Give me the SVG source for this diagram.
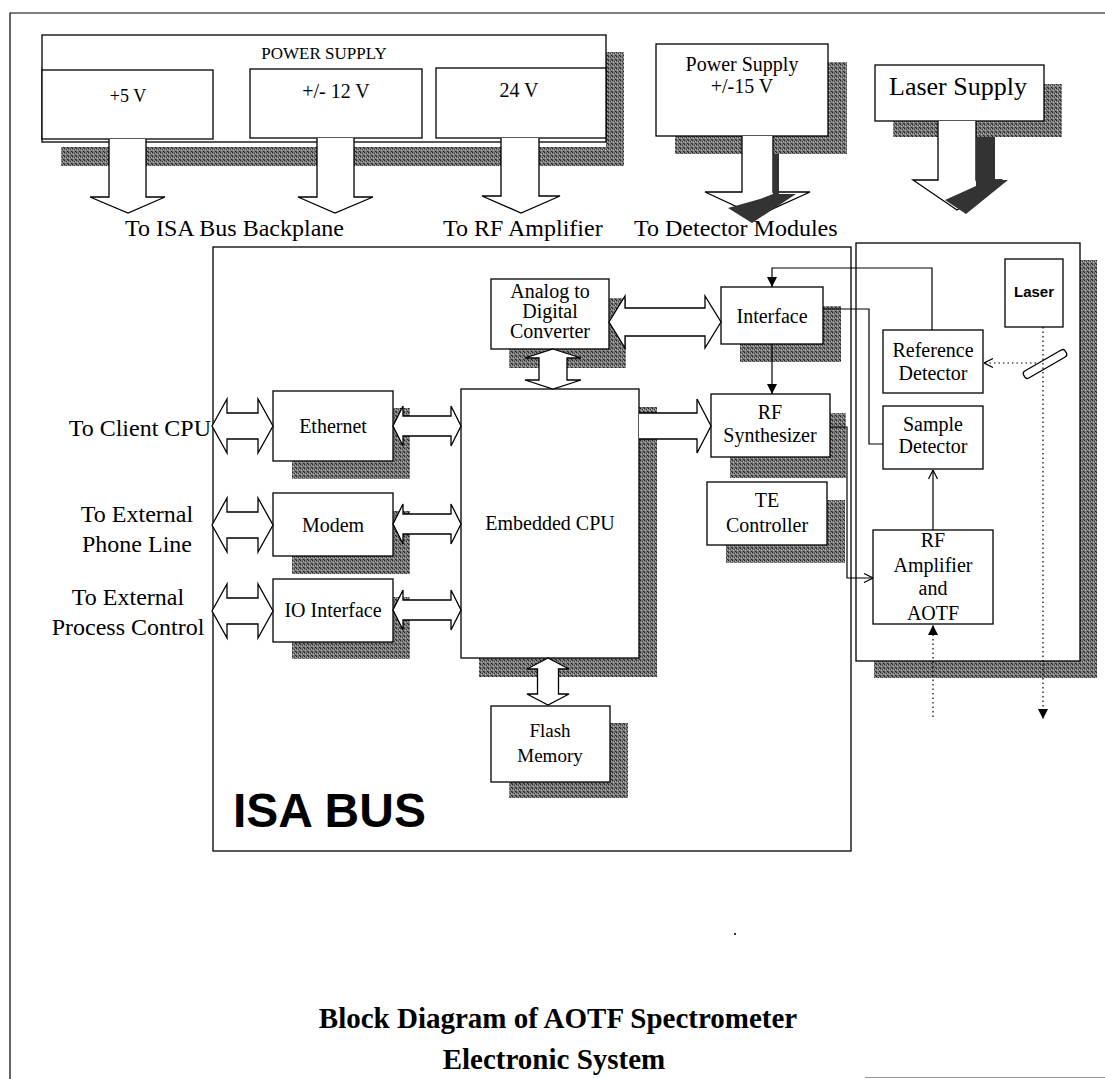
<svg xmlns="http://www.w3.org/2000/svg" width="1105" height="1079" viewBox="0 0 1105 1079">
<defs>
<pattern id="sh" width="4" height="4" patternUnits="userSpaceOnUse">
<rect width="4" height="4" fill="#7a7a7a"/>
<rect x="0" y="0" width="1" height="1" fill="#222"/>
<rect x="2" y="1" width="1" height="1" fill="#3a3a3a"/>
<rect x="1" y="2" width="1" height="1" fill="#bdbdbd"/>
<rect x="3" y="3" width="1" height="1" fill="#2a2a2a"/>
<rect x="3" y="1" width="1" height="1" fill="#aaa"/>
<rect x="0" y="3" width="1" height="1" fill="#555"/>
</pattern>
<marker id="af" viewBox="0 0 10 10" refX="10" refY="5" markerWidth="10" markerHeight="10" markerUnits="userSpaceOnUse" orient="auto">
<path d="M0,0 L10,5 L0,10 Z" fill="#000"/>
</marker>
<marker id="ao" viewBox="0 0 10 10" refX="10" refY="5" markerWidth="10" markerHeight="10" markerUnits="userSpaceOnUse" orient="auto">
<path d="M1,0.5 L10,5 L1,9.5" fill="none" stroke="#000" stroke-width="1.2"/>
</marker>
</defs>
<style>
.box{fill:#fff;stroke:#000;stroke-width:1.3}
.shd{fill:url(#sh)}
.t{font-family:"Liberation Serif","Times New Roman",serif;fill:#000;text-anchor:middle;font-size:20px}
.ts{font-family:"Liberation Serif","Times New Roman",serif;fill:#000;font-size:24px}
.ttl{font-family:"Liberation Serif","Times New Roman",serif;fill:#000;font-size:29px;font-weight:bold;text-anchor:middle}
.ln{fill:none;stroke:#000;stroke-width:1.2}
.dt{fill:none;stroke:#000;stroke-width:1.2;stroke-dasharray:1.5 3}
.blk{fill:#fff;stroke:#000;stroke-width:1.3}
.drk{fill:#333}
</style>
<rect width="1105" height="1079" fill="#fff"/>
<g id="frame">
<path d="M10,1079 V13 H1105" class="ln"/>
<line x1="865" y1="1077.5" x2="1105" y2="1077.5" stroke="#999" stroke-width="1"/>
<rect x="734" y="933" width="2" height="2" fill="#333"/>
</g>

<g id="title">
<text class="ttl" x="558" y="1028">Block Diagram of AOTF Spectrometer</text>
<text class="ttl" x="554" y="1069">Electronic System</text>
</g>

<g id="power-supply">
<path class="shd" d="M606,52 H624 V166 H61 V147 H606 Z"/>
<rect class="box" x="42" y="35" width="564" height="107"/>
<text class="t" x="324" y="59" style="font-size:17px">POWER SUPPLY</text>
</g>
<g id="ps-5v">
<rect class="box" x="42" y="70" width="171" height="69"/>
<text class="t" x="128" y="102" style="font-size:18px">+5 V</text>
</g>
<g id="ps-12v">
<rect class="box" x="250" y="69" width="172" height="69"/>
<text class="t" x="336" y="98">+/- 12 V</text>
</g>
<g id="ps-24v">
<rect class="box" x="436" y="68" width="170" height="70"/>
<text class="t" x="519" y="97">24 V</text>
</g>
<g id="ps-15v">
<rect class="shd" x="675" y="62" width="172" height="92"/>
<rect class="box" x="656" y="44" width="172" height="92"/>
<text class="t" x="742" y="71">Power Supply</text>
<text class="t" x="742" y="93">+/-15 V</text>
</g>
<g id="laser-supply">
<rect class="shd" x="893" y="84" width="169" height="53"/>
<rect class="box" x="875" y="65" width="169" height="56"/>
<text class="t" x="958" y="95" style="font-size:26px">Laser Supply</text>
</g>

<g id="labels">
<text class="ts" x="125" y="236">To ISA Bus Backplane</text>
<text class="ts" x="443" y="236">To RF Amplifier</text>
<text class="ts" x="634" y="236">To Detector Modules</text>
<text class="ts" x="211" y="436" text-anchor="end">To Client CPU</text>
<text class="ts" x="137" y="522" text-anchor="middle">To External</text>
<text class="ts" x="137" y="552" text-anchor="middle">Phone Line</text>
<text class="ts" x="128" y="605" text-anchor="middle">To External</text>
<text class="ts" x="128" y="635" text-anchor="middle">Process Control</text>
</g>

<g id="isa-bus">
<rect class="box" x="213" y="247" width="638" height="604"/>
<text x="233" y="827" font-family="Liberation Sans, Arial, sans-serif" font-weight="bold" font-size="48">ISA BUS</text>
</g>

<g id="detector-module">
<rect class="shd" x="874" y="260" width="223" height="418"/>
<rect class="box" x="856" y="243" width="224" height="418"/>
</g>

<g id="ethernet">
<rect class="shd" x="292" y="408" width="118" height="71"/>
<rect class="box" x="273" y="391" width="120" height="70"/>
<text class="t" x="333" y="433">Ethernet</text>
</g>
<g id="modem">
<rect class="shd" x="292" y="511" width="118" height="63"/>
<rect class="box" x="273" y="493" width="120" height="63"/>
<text class="t" x="333" y="532">Modem</text>
</g>
<g id="io-interface">
<rect class="shd" x="292" y="597" width="118" height="62"/>
<rect class="box" x="273" y="579" width="120" height="63"/>
<text class="t" x="333" y="617">IO Interface</text>
</g>
<g id="embedded-cpu">
<rect class="shd" x="479" y="407" width="178" height="270"/>
<rect class="box" x="461" y="389" width="178" height="269"/>
<text class="t" x="550" y="530">Embedded CPU</text>
</g>
<g id="adc">
<rect class="shd" x="509" y="298" width="117" height="70"/>
<rect class="box" x="491" y="279" width="118" height="70"/>
<text class="t" x="550" y="298">Analog to</text>
<text class="t" x="550" y="318">Digital</text>
<text class="t" x="550" y="338">Converter</text>
</g>
<g id="interface">
<rect class="shd" x="740" y="306" width="101" height="56"/>
<rect class="box" x="721" y="287" width="102" height="57"/>
<text class="t" x="772" y="323">Interface</text>
</g>
<g id="rf-synthesizer">
<rect class="shd" x="730" y="413" width="116" height="65"/>
<rect class="box" x="711" y="394" width="119" height="63"/>
<text class="t" x="770" y="419">RF</text>
<text class="t" x="770" y="442">Synthesizer</text>
</g>
<g id="te-controller">
<rect class="shd" x="726" y="500" width="119" height="63"/>
<rect class="box" x="707" y="482" width="120" height="63"/>
<text class="t" x="767" y="507">TE</text>
<text class="t" x="767" y="532">Controller</text>
</g>
<g id="flash-memory">
<rect class="shd" x="509" y="723" width="119" height="75"/>
<rect class="box" x="491" y="706" width="119" height="76"/>
<text class="t" x="550" y="737" style="font-size:19px">Flash</text>
<text class="t" x="550" y="762" style="font-size:19px">Memory</text>
</g>
<g id="reference-detector">
<rect class="box" x="883" y="330" width="100" height="63"/>
<text class="t" x="933" y="357">Reference</text>
<text class="t" x="933" y="380">Detector</text>
</g>
<g id="sample-detector">
<rect class="box" x="883" y="406" width="100" height="63"/>
<text class="t" x="933" y="431">Sample</text>
<text class="t" x="933" y="453">Detector</text>
</g>
<g id="rf-amplifier-aotf">
<rect class="box" x="873" y="530" width="120" height="94"/>
<text class="t" x="933" y="547">RF</text>
<text class="t" x="933" y="572">Amplifier</text>
<text class="t" x="933" y="595">and</text>
<text class="t" x="933" y="620">AOTF</text>
</g>
<g id="laser">
<rect class="box" x="1005" y="259" width="58" height="68"/>
<text x="1034" y="297" text-anchor="middle" font-family="Liberation Sans, Arial, sans-serif" font-weight="bold" font-size="15">Laser</text>
</g>
<g id="mirror">
<rect x="-24" y="-4" width="48" height="8" rx="3" fill="#fff" stroke="#000" stroke-width="1.3" transform="translate(1045,364) rotate(-30)"/>
</g>

<g id="connectors">
<path class="blk" d="M109,139 V197 H90 L128,213 L165,197 H146 V139"/>
<path class="blk" d="M317,138 V197 H298 L335,213 L373,197 H354 V138"/>
<path class="blk" d="M501,138 V196 H482 L521,213 L560,196 H539 V138"/>
<path class="blk" d="M742,136 V192 H705 L757,216 L810,192 H773 V136"/>
<path class="drk" d="M773,154 H779 V194 H796 L752,223 L728,208 L760,199 L773,194 Z"/>
<path class="blk" d="M938,121 V180 H913 L957,210 L1001,180 H976 V121"/>
<path class="drk" d="M976,137 H995 V180 H1008 L966,214 L945,200 L976,186 Z"/>

<polygon class="blk" points="212,426 227,399 227,413 258,413 258,399 273,426 258,453 258,439 227,439 227,453"/>
<polygon class="blk" points="212,525 227,498 227,512 258,512 258,498 273,525 258,552 258,538 227,538 227,552"/>
<polygon class="blk" points="212,611 227,584 227,598 258,598 258,584 273,611 258,638 258,624 227,624 227,638"/>
<polygon class="blk" points="393,426 403,406 403,416 451,416 451,406 461,426 451,446 451,436 403,436 403,446"/>
<polygon class="blk" points="393,524 403,504 403,514 451,514 451,504 461,524 451,544 451,534 403,534 403,544"/>
<polygon class="blk" points="393,610 403,590 403,600 451,600 451,590 461,610 451,630 451,620 403,620 403,630"/>
<path class="blk" d="M639,413 H697 V399 L711,426 L697,453 V439 H639"/>
<polygon class="blk" points="609,322 625,296 625,308 705,308 705,296 721,322 705,348 705,336 625,336 625,348"/>
<polygon class="blk" points="553,349 581,358 567,358 567,380 581,380 553,389 525,380 539,380 539,358 525,358"/>
<polygon class="blk" points="548,658 569,669 558.5,669 558.5,694 569,694 548,705 527,694 537.5,694 537.5,669 527,669"/>

<path class="ln" d="M932,330 V268 H772 V287" marker-end="url(#af)"/>
<path class="ln" d="M772,344 V394" marker-end="url(#af)"/>
<path class="ln" d="M823,309 H869 V444 H883"/>
<path class="ln" d="M830,427 H847 V578 H873" marker-end="url(#ao)"/>
<path class="ln" d="M933,530 V470" marker-end="url(#ao)"/>
<path class="dt" d="M933,717 V625" marker-end="url(#af)"/>
<path class="dt" d="M1043,327 V719" marker-end="url(#af)"/>
<path class="dt" d="M1036,363 H984" marker-end="url(#ao)"/>
</g>
</svg>
